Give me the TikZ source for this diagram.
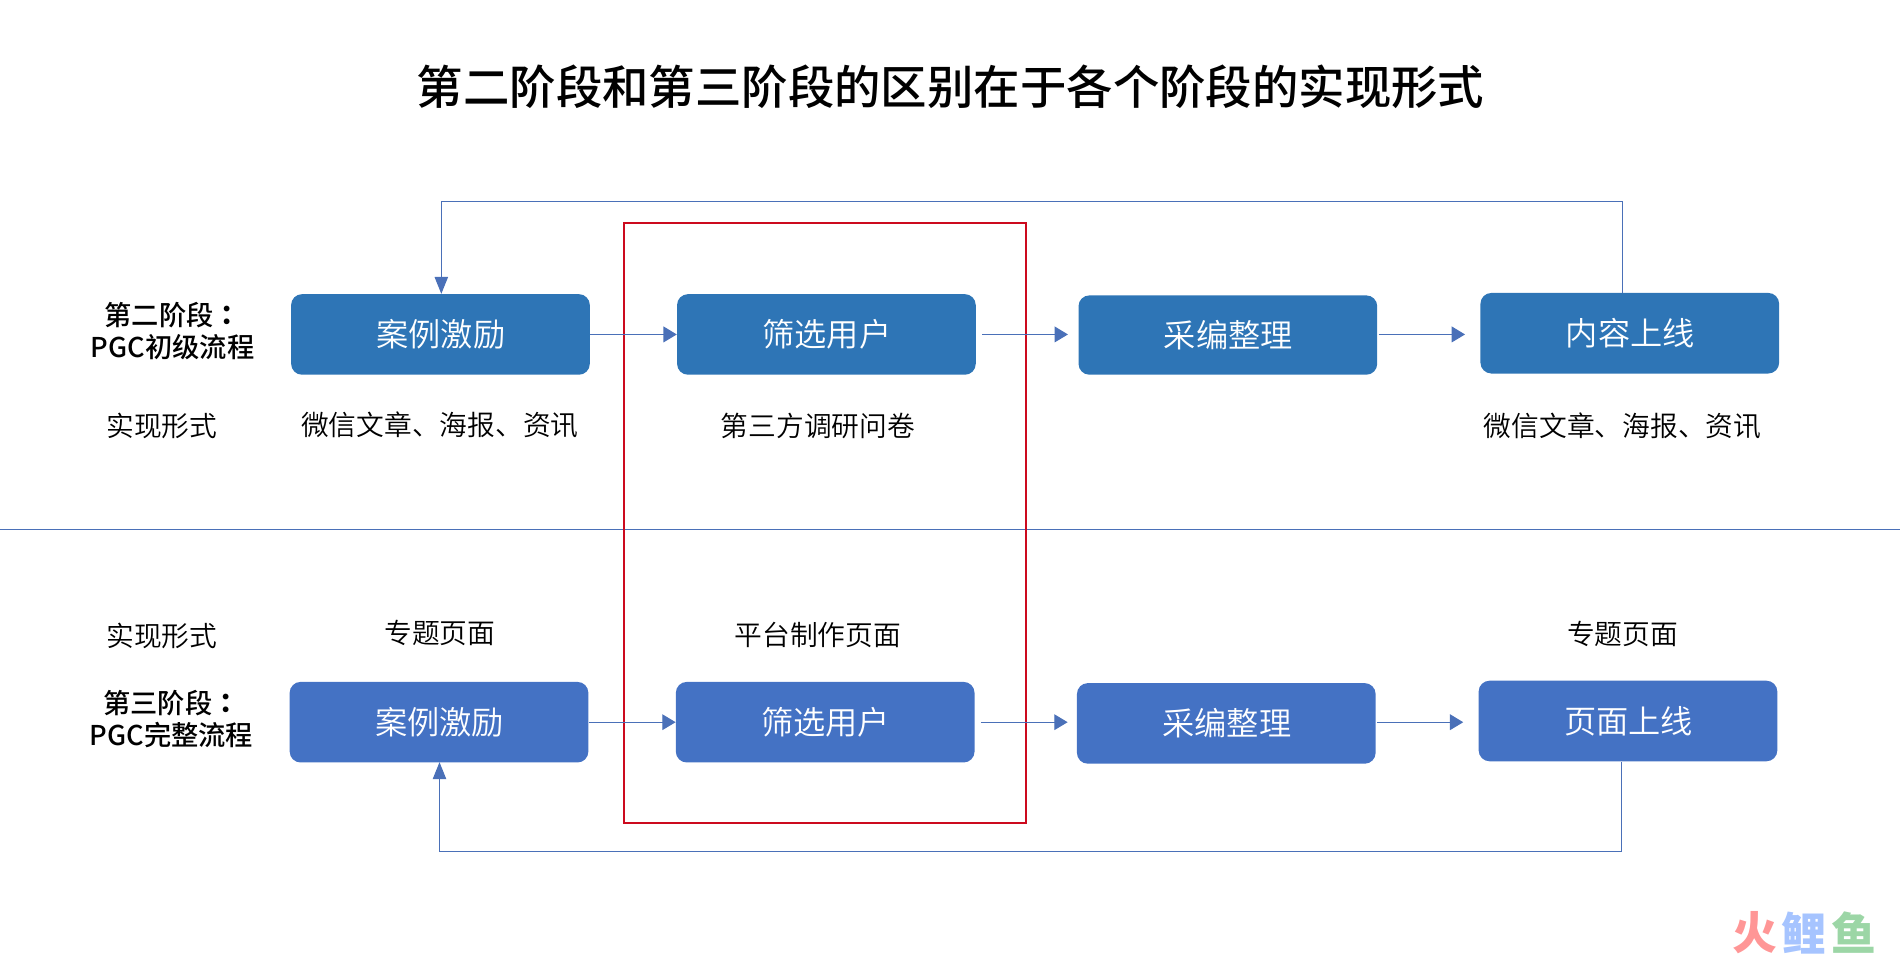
\documentclass[tikz,border=0pt]{standalone}
\usepackage{fontspec}
\usetikzlibrary{arrows.meta}
\setmainfont[BoldFont={Noto Sans CJK SC Medium}]{Noto Sans CJK SC DemiLight}
\newfontfamily\tcfont{Noto Sans CJK TC Medium}
\newfontfamily\markfont{Noto Sans CJK SC Black}
\definecolor{boxtop}{HTML}{2E75B6}
\definecolor{boxbot}{HTML}{4472C4}
\definecolor{linec}{HTML}{4A70B8}
\definecolor{framered}{HTML}{CC0A1E}
\newcommand{\fsz}[1]{\fontsize{#1}{#1}\selectfont}
\newcommand{\boxtxt}[1]{\hspace*{0.8pt}\raisebox{-1.6pt}{#1}}
\tikzset{
  x=1pt,y=-1pt,
  flowbox/.style={rectangle,rounded corners=9pt,minimum width=246.5pt,minimum height=66.5pt,inner sep=0pt,text=white,font=\fsz{26.6}},
  topbox/.style={flowbox,fill=boxtop},
  botbox/.style={flowbox,fill=boxbot},
  lab/.style={inner sep=0pt,text=black,font=\fsz{22.9}},
  stagelab/.style={inner sep=0pt,text=black,align=center,font=\bfseries\fsz{22.5}},
  flow/.style={draw=linec,line width=0.9pt,-{Triangle[length=11pt,width=13pt]}},
  loopflow/.style={draw=linec,line width=0.9pt,-{Triangle[length=14pt,width=11pt]}},
}
\begin{document}
\begin{tikzpicture}
\useasboundingbox (0,0) rectangle (1568,789.8);
\node[inner sep=0pt,font=\bfseries\fsz{38.3}] (title) at (784.5,72) {第二阶段和第三阶段的区别在于各个阶段的实现形式};
% frame and divider
\coordinate (dl) at (0,437);
\coordinate (dr) at (1568,437);
\draw[linec,line width=0.8pt] (dl) -- (dr);
\draw[framered,line width=1.6pt] (515,184) rectangle (847,679);
% top row
\node[topbox] (a1) at (363.5,276) {\boxtxt{案例激励}};
\node[topbox] (b1) at (682,276) {\boxtxt{筛选用户}};
\node[topbox,minimum height=65.5pt] (c1) at (1013.3,276.5) {\boxtxt{采编整理}};
\node[topbox] (d1) at (1345,275) {\boxtxt{内容上线}};
% bottom row
\node[botbox] (a2) at (362.3,596) {\boxtxt{案例激励}};
\node[botbox] (b2) at (681,596) {\boxtxt{筛选用户}};
\node[botbox] (c2) at (1012,597) {\boxtxt{采编整理}};
\node[botbox] (d2) at (1343.5,595) {\boxtxt{页面上线}};
% top arrows
\draw[flow] (a1.east) -- (b1.west);
\draw[flow] ([xshift=5pt]b1.east) -- ([xshift=-8.5pt]c1.west |- b1.east);
\draw[flow] ([xshift=1pt]c1.east |- b1.east) -- ([xshift=-12.5pt]d1.west |- b1.east);
\coordinate (lt1) at ([xshift=-6pt]d1.north);
\draw[loopflow] (lt1) -- ++(0,-75.5) -| ([xshift=0.7pt]a1.north);
% bottom arrows
\draw[flow] (a2.east) -- (b2.west);
\draw[flow] ([xshift=5pt]b2.east) -- ([xshift=-7.5pt]c2.west |- b2.east);
\draw[flow] ([xshift=1pt]c2.east |- b2.east) -- ([xshift=-12.5pt]d2.west |- b2.east);
\coordinate (lb1) at ([xshift=-5.5pt]d2.south);
\draw[loopflow] (lb1) -- ++(0,74.5) -| ([yshift=0.5pt,xshift=0.4pt]a2.south);
% labels
\node[stagelab] (s1) at (142.5,273.5) {第二阶段{\tcfont ：}\\[4pt]PGC初级流程};
\node[stagelab] (s2) at (141.5,593.5) {第三阶段{\tcfont ：}\\[4pt]PGC完整流程};
\node[lab] (f1) at (133.5,351.5) {实现形式};
\node[lab] (l1) at (363,351) {微信文章、海报、资讯};
\node[lab] (l2) at (675,351.5) {第三方调研问卷};
\node[lab] (l3) at (1339,351.5) {微信文章、海报、资讯};
\node[lab] (f2) at (133.5,524.5) {实现形式};
\node[lab] (l4) at (363,522.5) {专题页面};
\node[lab] (l5) at (675,524) {平台制作页面};
\node[lab] (l6) at (1339,523.5) {专题页面};
% watermark
\node[inner sep=0pt,text={rgb,255:red,255;green,150;blue,150},font=\markfont\fsz{37}] (w1) at (1448,770) {火};
\node[inner sep=0pt,text={rgb,255:red,166;green,196;blue,255},font=\markfont\fsz{37}] (w2) at (1489,770) {鲤};
\node[inner sep=0pt,text={rgb,255:red,156;green,214;blue,166},font=\markfont\fsz{37}] (w3) at (1530,770) {鱼};
\end{tikzpicture}
\end{document}
